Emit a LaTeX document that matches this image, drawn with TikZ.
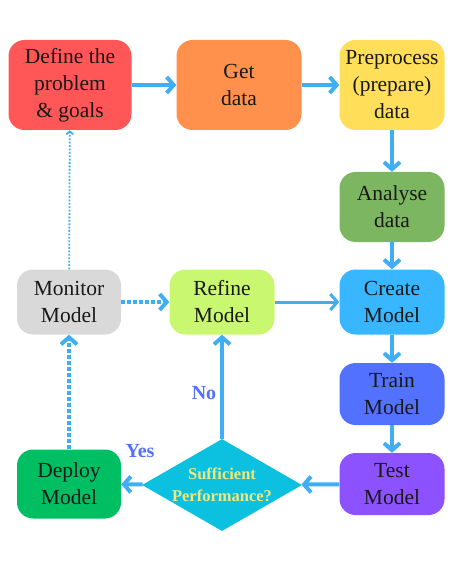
\documentclass[tikz,border=0pt]{standalone}
\usepackage{fontspec}
\setmainfont{Liberation Serif}
\usetikzlibrary{arrows.meta,shapes.geometric}
\definecolor{defred}{HTML}{FF5757}
\definecolor{getorange}{HTML}{FF914D}
\definecolor{preyellow}{HTML}{FFDE59}
\definecolor{anagreen}{HTML}{7DB660}
\definecolor{mongray}{HTML}{D9D9D9}
\definecolor{reflime}{HTML}{C9F76F}
\definecolor{creblue}{HTML}{38B6FF}
\definecolor{traindigo}{HTML}{5271FF}
\definecolor{tespurple}{HTML}{8C52FF}
\definecolor{depgreen}{HTML}{00BF63}
\definecolor{deccyan}{HTML}{0CC0DF}
\definecolor{dectext}{HTML}{F2E87A}
\definecolor{arrblue}{HTML}{3FAEF5}

\tikzset{
	box/.style = {rounded corners=16pt, inner sep=0pt, align=center,
		text=black!90, font=\fontsize{21.5}{27}\selectfont},
	flow/.style = {draw=arrblue, line width=4pt, -{Straight Barb[length=7pt,width=16pt]}},
	thinflow/.style = {flow, line width=3pt},
	dotflow/.style = {flow, dotted},
	faintflow/.style = {draw=arrblue, line width=1.8pt, dash pattern=on 1.8pt off 1.6pt,
		-{Straight Barb[length=3pt,width=7pt]}},
	answer/.style = {text=traindigo, font=\bfseries\fontsize{20}{22}\selectfont},
}

\begin{document}
\begin{tikzpicture}[x=1pt, y=-1pt]
	\useasboundingbox (0,0) rectangle (474,569);

	\node (define) at (70, 85) [box, fill=defred, minimum width=123pt, minimum height=90pt] {Define the\\problem\\\& goals};
	\node (getdata) at (239, 85) [box, fill=getorange, minimum width=125pt, minimum height=90pt] {Get\\data};
	\node (prep) at (392, 85) [box, fill=preyellow, minimum width=105pt, minimum height=90pt] {Preprocess\\(prepare)\\data};
	\node (analyse) at (392, 207) [box, fill=anagreen, minimum width=105pt, minimum height=70pt] {Analyse\\data};
	\node (monitor) at (69, 302) [box, fill=mongray, minimum width=104pt, minimum height=65pt] {Monitor\\Model};
	\node (refine) at (222, 302) [box, fill=reflime, minimum width=105pt, minimum height=65pt] {Refine\\Model};
	\node (create) at (392, 302) [box, fill=creblue, minimum width=105pt, minimum height=65pt] {Create\\Model};
	\node (train) at (392, 394) [box, fill=traindigo, minimum width=105pt, minimum height=62pt] {Train\\Model};
	\node (test) at (392, 484) [box, fill=tespurple, minimum width=105pt, minimum height=62pt] {Test\\Model};
	\node (deploy) at (69, 484) [box, fill=depgreen, minimum width=104pt, minimum height=69pt] {Deploy\\Model};
	\node (decide) at (222, 485) [diamond, aspect=1.74, fill=deccyan, inner sep=-2pt, minimum width=160pt, minimum height=92pt,
		align=center, text=dectext, font=\bfseries\fontsize{16.5}{22}\selectfont] {Sufficient\\Performance?};

	\node (no) at (204, 393) [answer] {No};
	\node (yes) at (140, 451) [answer] {Yes};

	\draw [flow] (define) -- (getdata);
	\draw [flow] (getdata) -- (prep);
	\draw [flow] (prep) -- (analyse);
	\draw [flow] (analyse) -- (create);
	\draw [thinflow] (refine) -- (create);
	\draw [flow] (create) -- (train);
	\draw [flow] (train) -- (test);
	\draw [flow] (test) -- (decide);
	\draw [flow] (decide) -- (deploy);
	\draw [flow] (decide) -- (refine);
	\draw [dotflow] (deploy) -- (monitor);
	\draw [dotflow] (monitor) -- (refine);
	\draw [faintflow] (monitor) -- (define);
\end{tikzpicture}
\end{document}
